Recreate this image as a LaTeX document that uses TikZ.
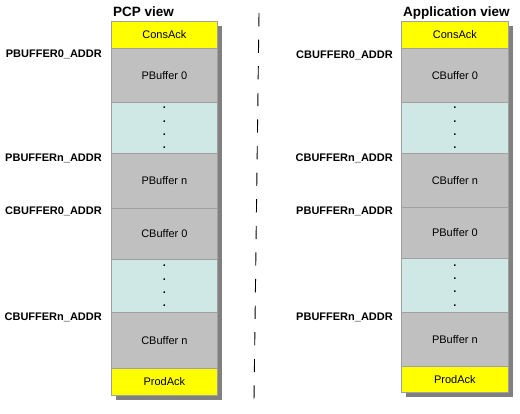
\documentclass[tikz,border=0pt]{standalone}
\usepackage{fontspec}
\setmainfont{Liberation Sans}
\definecolor{cellline}{HTML}{A0A0A0}
\definecolor{ackyellow}{HTML}{FFFF00}
\definecolor{bufgray}{HTML}{C0C0C0}
\definecolor{gapcyan}{HTML}{D0E8E5}
\definecolor{shadowgray}{HTML}{808080}
\tikzset{
 cell/.style={draw=cellline, line width=0.8pt, minimum width=106pt, anchor=north west, inner sep=0pt, font=\fontsize{11}{13}\selectfont, text=black},
 ackbox/.style={cell, fill=ackyellow},
 bufbox/.style={cell, fill=bufgray},
 gapbox/.style={cell, fill=gapcyan, align=center, font=\bfseries\fontsize{11}{13.3}\selectfont},
 addr/.style={anchor=base east, font=\bfseries\fontsize{11}{13}\selectfont, inner sep=0pt},
 viewtitle/.style={anchor=base west, font=\bfseries\fontsize{13.5}{16}\selectfont, inner sep=0pt},
 colshadow/.style={fill=shadowgray, draw=none},
 divider/.style={draw=black, line width=0.9pt, dash pattern=on 13.3pt off 13.3pt}
}
\begin{document}
\begin{tikzpicture}[x=1pt,y=-1pt]
\useasboundingbox[fill=white] (0,0) rectangle (520,414);
% titles
\node[viewtitle] (tl) at (113,16.5) {PCP view};
\node[viewtitle] (tr) at (403,16.5) {Application view};
% shadows
\fill[colshadow] (116,26) rectangle (222,400);
\fill[colshadow] (406,26) rectangle (513,397);
% left column
\node[ackbox, minimum height=27pt] (lca) at (111,21) {ConsAck};
\node[bufbox, minimum height=54pt] (lp0) at (111,48) {PBuffer 0};
\node[gapbox, minimum height=51pt] (lg1) at (111,102) {.\\.\\.\\.};
\node[bufbox, minimum height=55pt] (lpn) at (111,153) {PBuffer n};
\node[bufbox, minimum height=51pt] (lc0) at (111,208) {CBuffer 0};
\node[gapbox, minimum height=53pt] (lg2) at (111,259) {.\\.\\.\\.};
\node[bufbox, minimum height=56pt] (lcn) at (111,312) {CBuffer n};
\node[ackbox, minimum height=27pt] (lpa) at (111,368) {ProdAck};
% right column
\node[ackbox, minimum width=107pt, minimum height=27pt] (rca) at (401,21) {ConsAck};
\node[bufbox, minimum width=107pt, minimum height=54pt] (rc0) at (401,48) {CBuffer 0};
\node[gapbox, minimum width=107pt, minimum height=51pt] (rg1) at (401,102) {.\\.\\.\\.};
\node[bufbox, minimum width=107pt, minimum height=54pt] (rcn) at (401,153) {CBuffer n};
\node[bufbox, minimum width=107pt, minimum height=51pt] (rp0) at (401,207) {PBuffer 0};
\node[gapbox, minimum width=107pt, minimum height=54pt] (rg2) at (401,258) {.\\.\\.\\.};
\node[bufbox, minimum width=107pt, minimum height=54pt] (rpn) at (401,312) {PBuffer n};
\node[ackbox, minimum width=107pt, minimum height=26pt] (rpa) at (401,366) {ProdAck};
% left labels
\node[addr] (l1) at (102,58) {PBUFFER0\_ADDR};
\node[addr] (l2) at (102,162) {PBUFFERn\_ADDR};
\node[addr] (l3) at (102,215) {CBUFFER0\_ADDR};
\node[addr] (l4) at (102,321) {CBUFFERn\_ADDR};
% right labels
\node[addr] (r1) at (393,59) {CBUFFER0\_ADDR};
\node[addr] (r2) at (393,162) {CBUFFERn\_ADDR};
\node[addr] (r3) at (393,215) {PBUFFERn\_ADDR};
\node[addr] (r4) at (393,321) {PBUFFERn\_ADDR};
% divider
\coordinate (dtop) at (259,13);
\coordinate (dbot) at (254,401);
\draw[divider] (dtop) -- (dbot);
\end{tikzpicture}
\end{document}
